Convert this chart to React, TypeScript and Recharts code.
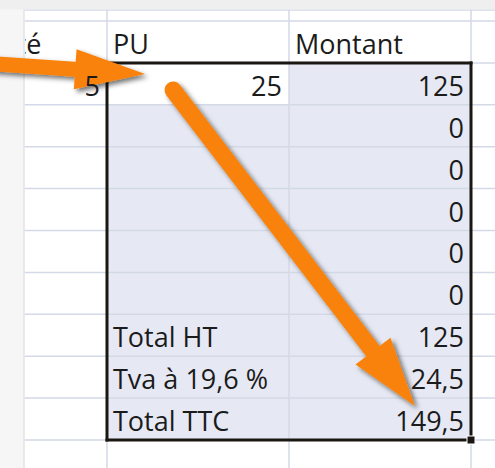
import React from "react";
import { ScatterChart, Scatter, XAxis, YAxis, ReferenceArea, ReferenceLine, ReferenceDot } from "recharts";

// spreadsheet content
const headers = ["Quantité", "PU", "Montant"];
const quantities = ["5"];
const unitPrices = ["25"];
const amounts = ["125", "0", "0", "0", "0", "0"];
const totalLabels = ["Total HT", "Tva à 19,6 %", "Total TTC"];
const totalValues = ["125", "24,5", "149,5"];

// grid geometry, in (column, row) units: col A = -1..0, B = 0..1, C = 1..2
const colLines = [-1, 0, 1, 2, 3];
const rowLines = [-0.263, 0, 1, 2, 3, 4, 5, 6, 7, 8, 9, 10, 11];

// orange callout arrows, same units
const arrows = [
  { id: "a1", from: { x: -0.643, y: 1.014 }, to: { x: 0.209, y: 1.265 }, width: 15, headLen: 70, headHalf: 20, round: false },
  { id: "a2", from: { x: 0.363, y: 1.647 }, to: { x: 1.692, y: 9.189 }, width: 17, headLen: 69, headHalf: 22, round: true },
];

// selection box around B1:C9
const box = [
  [{ x: 0, y: 1 }, { x: 2, y: 1 }],
  [{ x: 2, y: 1 }, { x: 2, y: 10 }],
  [{ x: 2, y: 10 }, { x: 0, y: 10 }],
  [{ x: 0, y: 10 }, { x: 0, y: 1 }],
];

type Cell = { x: number; y: number; text: string; align: "left" | "right" };

const cells: Cell[] = [];
headers.forEach((t, i) => cells.push({ x: i - 1, y: 1, text: t, align: "left" }));
quantities.forEach((t, i) => cells.push({ x: 0, y: 2 + i, text: t, align: "right" }));
unitPrices.forEach((t, i) => cells.push({ x: 1, y: 2 + i, text: t, align: "right" }));
amounts.forEach((t, i) => cells.push({ x: 2, y: 2 + i, text: t, align: "right" }));
totalLabels.forEach((t, i) => cells.push({ x: 0, y: 8 + i, text: t, align: "left" }));
totalValues.forEach((t, i) => cells.push({ x: 2, y: 8 + i, text: t, align: "right" }));

const X0 = -107 / 182;
const X1 = 388 / 182;
const Y0 = -21 / 41.9;
const Y1 = 447 / 41.9;

const FONT = "'Open Sans', sans-serif";
const GRID = "#d3d9e6";
const FILL = "#e6e9f3";
const BORDER = "#1a1712";
const ORANGE = "#f9820a";

// the window edge hides everything left of x = 25px
const CellText = (props: any) => {
  const { cx, cy, payload } = props;
  const left = payload.align === "left";
  return (
    <g>
      <defs>
        <clipPath id="sheetView">
          <rect x={25} y={0} width={470} height={468} />
        </clipPath>
      </defs>
      <text
        x={cx + (left ? 6 : -7)}
        y={cy - 9}
        textAnchor={left ? "start" : "end"}
        fontFamily={FONT}
        fontSize={27}
        fill="#1b1b1b"
        clipPath="url(#sheetView)"
      >
        {payload.text}
      </text>
    </g>
  );
};

const arrowShape = (a: (typeof arrows)[number]) => (p: any) => {
  const { x1, y1, x2, y2 } = p;
  const dx = x2 - x1;
  const dy = y2 - y1;
  const len = Math.hypot(dx, dy);
  const ux = dx / len;
  const uy = dy / len;
  const nx = -uy;
  const ny = ux;
  const bx = x2 - ux * a.headLen;
  const by = y2 - uy * a.headLen;
  const h = a.headHalf;
  return (
    <g>
      <defs>
        <filter id={`shadow-${a.id}`} x="-20%" y="-20%" width="140%" height="140%">
          <feDropShadow dx="3" dy="3" stdDeviation="2.5" floodColor="#000" floodOpacity="0.55" />
        </filter>
      </defs>
      <g filter={`url(#shadow-${a.id})`}>
        <line
          x1={x1}
          y1={y1}
          x2={bx + ux * 3}
          y2={by + uy * 3}
          stroke={ORANGE}
          strokeWidth={a.width}
          strokeLinecap={a.round ? "round" : "butt"}
        />
        <polygon
          points={`${x2},${y2} ${bx + nx * h},${by + ny * h} ${bx - nx * h},${by - ny * h}`}
          fill={ORANGE}
        />
      </g>
    </g>
  );
};

export default function App() {
  return (
    <div style={{ position: "absolute", left: 0, top: 0, width: 495, height: 468, background: "#fff" }}>
      <ScatterChart width={495} height={468} margin={{ top: 0, right: 0, bottom: 0, left: 0 }}>
        <XAxis type="number" dataKey="x" domain={[X0, X1]} allowDataOverflow hide />
        <YAxis type="number" dataKey="y" domain={[Y0, Y1]} allowDataOverflow reversed hide />

        <ReferenceArea x1={1} x2={2} y1={1} y2={10} fill={FILL} fillOpacity={1} stroke="none" ifOverflow="visible" />
        <ReferenceArea x1={0} x2={1} y1={2} y2={10} fill={FILL} fillOpacity={1} stroke="none" ifOverflow="visible" />

        <Scatter data={cells} shape={CellText} isAnimationActive={false} />

        {rowLines.map((r) => (
          <ReferenceLine key={`r${r}`} y={r} stroke={GRID} strokeWidth={1.5} ifOverflow="visible" />
        ))}
        {colLines.map((c) => (
          <ReferenceLine key={`c${c}`} x={c} stroke={GRID} strokeWidth={1.5} ifOverflow="visible" />
        ))}

        {/* window shadow along the left and top edges */}
        <ReferenceLine x={(12 - 107) / 182} stroke="#f6f6f6" strokeWidth={25} ifOverflow="visible" />
        <ReferenceLine x={(24 - 107) / 182} stroke="#e4e4e4" strokeWidth={1.5} ifOverflow="visible" />
        <ReferenceLine y={(4.5 - 21) / 41.9} stroke="#efefef" strokeWidth={10} ifOverflow="visible" />

        {box.map((seg, i) => (
          <ReferenceLine
            key={`box${i}`}
            segment={seg}
            stroke={BORDER}
            strokeWidth={3}
            strokeLinecap="square"
            ifOverflow="visible"
          />
        ))}
        <ReferenceDot
          x={2}
          y={10}
          ifOverflow="visible"
          shape={(p: any) => (
            <rect x={p.cx - 4} y={p.cy - 4} width={8} height={8} fill={BORDER} stroke="#fff" strokeWidth={1} />
          )}
        />

        {arrows.map((a) => (
          <ReferenceLine
            key={a.id}
            segment={[a.from, a.to]}
            ifOverflow="visible"
            shape={arrowShape(a)}
          />
        ))}
      </ScatterChart>
    </div>
  );
}
